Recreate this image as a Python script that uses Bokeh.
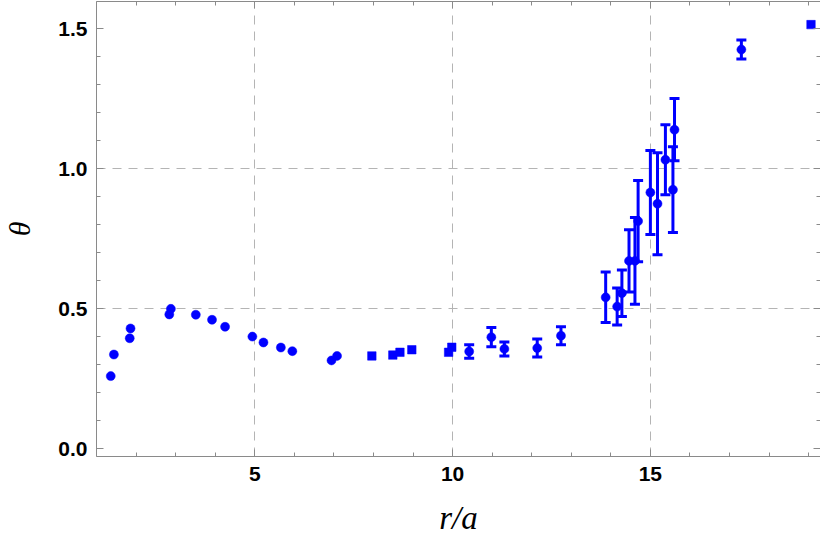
import numpy as np
from bokeh.plotting import figure
from bokeh.models import (Range1d, LinearAxis, SingleIntervalTicker, FixedTicker,
                          ColumnDataSource, Whisker, TeeHead, Grid, CustomJSTickFormatter)
from bokeh.embed import file_html
from bokeh.resources import INLINE

# --- data ---
# group A: circles, no visible error bars
xa = [1.36, 1.44, 1.84, 1.86, 2.84, 2.88, 3.51, 3.92, 4.25, 4.94, 5.22, 5.66, 5.95, 6.94, 7.08]
ya = [0.260, 0.337, 0.395, 0.430, 0.480, 0.500, 0.479, 0.461, 0.436, 0.401, 0.380, 0.362, 0.349, 0.316, 0.332]
# group B: squares, no visible error bars
xb = [7.96, 8.49, 8.67, 8.97, 9.90, 9.98, 19.06]
yb = [0.332, 0.335, 0.345, 0.354, 0.345, 0.363, 1.514]
# group C: circles with error bars
xc = [10.42, 10.98, 11.31, 12.14, 12.74, 13.87, 14.16, 14.28, 14.46, 14.61, 14.69,
      15.00, 15.18, 15.38, 15.57, 15.61, 17.30]
yc = [0.348, 0.399, 0.357, 0.360, 0.404, 0.541, 0.508, 0.556, 0.671, 0.671, 0.813,
      0.915, 0.875, 1.032, 0.925, 1.139, 1.425]
ec = [0.024, 0.034, 0.025, 0.032, 0.032, 0.090, 0.066, 0.083, 0.111, 0.155, 0.145,
      0.150, 0.182, 0.125, 0.153, 0.111, 0.034]

x_grid = [5, 10, 15]
y_grid = [0.5, 1.0]

BLUE = "#0000ff"
GRAY = "#8a8a8a"

p = figure(width=820, height=540, output_backend="svg", toolbar_location=None,
           x_range=Range1d(1.0, 19.3), y_range=Range1d(-0.0268, 1.5965),
           min_border_left=84, min_border_right=0, min_border_top=1, min_border_bottom=84,
           x_axis_location=None, y_axis_location=None)
p.outline_line_color = None
p.background_fill_color = "white"
p.border_fill_color = "white"

def style_axis(ax, labels, interval):
    ax.ticker = SingleIntervalTicker(interval=interval, num_minor_ticks=5)
    ax.axis_line_color = GRAY
    ax.axis_line_width = 1
    ax.major_tick_line_color = GRAY
    ax.minor_tick_line_color = GRAY
    ax.major_tick_in = 7
    ax.major_tick_out = 0
    ax.minor_tick_in = 4
    ax.minor_tick_out = 0
    if labels:
        ax.major_label_text_font = "Liberation Sans"
        ax.major_label_text_font_style = "bold"
        ax.major_label_text_font_size = "21px"
        ax.major_label_text_color = "black"
    else:
        ax.formatter = CustomJSTickFormatter(code="return '';")
        ax.major_label_standoff = 0

bottom = LinearAxis()
style_axis(bottom, True, 5)
bottom.major_label_standoff = 10
bottom.axis_label = "r/a"
bottom.axis_label_text_font = "Liberation Serif"
bottom.axis_label_text_font_style = "italic"
bottom.axis_label_text_font_size = "33px"
bottom.axis_label_text_color = "black"
bottom.axis_label_standoff = 16

left = LinearAxis()
style_axis(left, True, 0.5)
left.major_label_standoff = 9
left.formatter = CustomJSTickFormatter(code="return tick.toFixed(1);")
left.axis_label = "θ"
left.axis_label_text_font = "Liberation Serif"
left.axis_label_text_font_style = "italic"
left.axis_label_text_font_size = "30px"
left.axis_label_text_color = "black"
left.axis_label_standoff = 19

top = LinearAxis()
style_axis(top, False, 5)
right = LinearAxis()
style_axis(right, False, 0.5)

p.add_layout(bottom, "below")
p.add_layout(left, "left")
p.add_layout(top, "above")
p.add_layout(right, "right")

# grid
p.xgrid.visible = False
p.ygrid.visible = False
gx = Grid(dimension=0, ticker=FixedTicker(ticks=x_grid), grid_line_color="#b4b4b4",
          grid_line_dash="9 7", grid_line_width=1)
gy = Grid(dimension=1, ticker=FixedTicker(ticks=y_grid), grid_line_color="#b4b4b4",
          grid_line_dash="9 7", grid_line_width=1)
p.add_layout(gx)
p.add_layout(gy)

# group A
p.scatter(xa, ya, marker="circle", size=9, fill_color=BLUE, line_color=BLUE, line_width=0.5)
# group B
p.scatter(xb, yb, marker="square", size=8.5, fill_color=BLUE, line_color=BLUE, line_width=0.5)
# group C error bars
src = ColumnDataSource(dict(x=xc, y=yc,
                            lo=[a - b for a, b in zip(yc, ec)],
                            hi=[a + b for a, b in zip(yc, ec)]))
w = Whisker(source=src, base="x", lower="lo", upper="hi", dimension="height",
            line_color=BLUE, line_width=3,
            upper_head=TeeHead(size=10, line_color=BLUE, line_width=3),
            lower_head=TeeHead(size=10, line_color=BLUE, line_width=3))
p.add_layout(w)
p.scatter("x", "y", source=src, marker="circle", size=9, fill_color=BLUE, line_color=BLUE, line_width=0.5)

open("out.html", "w").write(file_html(p, INLINE))
